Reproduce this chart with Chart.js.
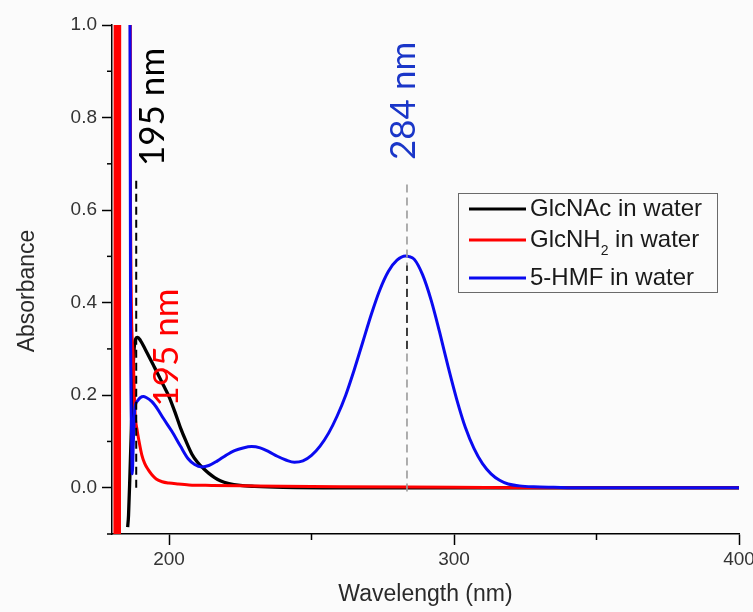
<!DOCTYPE html>
<html>
<head>
<meta charset="utf-8">
<script src="https://cdn.jsdelivr.net/npm/chart.js@4"></script>
<style>
  body { margin: 0; background: #fbfbfb; }
</style>
</head>
<body>
<canvas id="uvChart" width="753" height="612"></canvas>
<script>
// wavelength (nm) and absorbance
const glcnacWl = [185.5, 185.8, 186.3, 186.9, 187.5, 188.1, 189, 190, 191.6, 193, 194.5, 196, 198, 200, 202, 204, 206, 208, 210, 212, 214, 216, 218, 221, 225, 230, 240, 260, 400];
const glcnacAbs = [-0.085, -0.06, 0.03, 0.15, 0.27, 0.318, 0.325, 0.318, 0.3, 0.283, 0.265, 0.247, 0.222, 0.197, 0.165, 0.13, 0.1, 0.073, 0.055, 0.042, 0.031, 0.022, 0.015, 0.009, 0.005, 0.003, 0.001, 0, 0];

// null = break in the trace (the saturated part below 184 nm)
const glcnh2Wl = [181.0, 181.2, 181.5, 181.9, 182.0, 182.3, 182.6, 182.8, 184.5, 186.2, 186.5, 187.3, 188.1, 188.8, 189.5, 190.5, 191.5, 192.7, 194, 195.5, 197.6, 200, 203, 207, 215, 230, 260, 300, 330, 400];
const glcnh2Abs = [-0.5, 2.5, null, 2.5, -0.5, null, -0.5, 2.5, null, 2.5, 0.6, 0.3, 0.16, 0.125, 0.1, 0.07, 0.052, 0.039, 0.028, 0.019, 0.013, 0.01, 0.008, 0.006, 0.005, 0.004, 0.002, 0.001, 0, 0];

const hmfWl = [185.9, 186.5, 186.9, 187.1, 187.5, 188, 189, 190, 191, 192, 194, 196, 198, 201, 204, 206.8, 209, 211.5, 214, 217, 220, 223, 226, 229, 232, 235, 238, 241, 244, 247, 250, 253, 256, 259, 262, 265, 268, 271, 274, 277, 280, 283, 284, 286, 289, 292, 295, 298, 301, 304, 307, 310, 313, 316, 319, 323, 328, 335, 345, 400];
const hmfAbs = [2.5, 0.4, 0.1, 0.03, 0.1, 0.17, 0.188, 0.195, 0.197, 0.195, 0.186, 0.17, 0.15, 0.122, 0.09, 0.062, 0.05, 0.045, 0.048, 0.058, 0.07, 0.08, 0.086, 0.089, 0.086, 0.078, 0.068, 0.06, 0.055, 0.058, 0.07, 0.09, 0.118, 0.155, 0.2, 0.255, 0.315, 0.375, 0.428, 0.468, 0.492, 0.501, 0.5, 0.494, 0.46, 0.405, 0.335, 0.26, 0.19, 0.13, 0.085, 0.052, 0.03, 0.016, 0.008, 0.004, 0.002, 0.001, 0, 0];

const seriesLabels = ["GlcNAc in water", "GlcNH2 in water", "5-HMF in water"];
const seriesColors = ["#000000", "#ff0000", "#0a0af0"];
const xTicks = [200, 300, 400];
const xMinorTicks = [250, 350];
const yTicks = [0, 0.2, 0.4, 0.6, 0.8, 1.0];
const yMinorTicks = [-0.1, 0.1, 0.3, 0.5, 0.7, 0.9];

const FONT = '"Liberation Sans", Arial, sans-serif';

function toPoints(xs, ys) {
  return xs.map((v, i) => ({ x: v, y: ys[i] }));
}

const overlay = {
  id: "overlay",
  afterDatasetsDraw(chart) {
    const { ctx } = chart;
    const x = chart.scales.x, y = chart.scales.y;
    ctx.save();

    function guide(wl, from, to, color, width) {
      ctx.beginPath();
      ctx.setLineDash([8, 5]);
      ctx.strokeStyle = color;
      ctx.lineWidth = width;
      ctx.moveTo(x.getPixelForValue(wl), y.getPixelForValue(from));
      ctx.lineTo(x.getPixelForValue(wl), y.getPixelForValue(to));
      ctx.stroke();
    }
    guide(188.5, 0, 0.67, "#000", 2);
    guide(283.5, -0.008, 0.66, "#9a9a9a", 1.6);
    guide(283.5, 0.3, 0.48, "#333", 1.8);
    ctx.setLineDash([]);

    function vlabel(text, wl, val, color) {
      ctx.save();
      ctx.translate(x.getPixelForValue(wl), y.getPixelForValue(val));
      ctx.rotate(-Math.PI / 2);
      ctx.font = '35px Lato, "Open Sans", sans-serif';
      ctx.fillStyle = color;
      ctx.textAlign = "center";
      ctx.textBaseline = "middle";
      ctx.fillText(text, 0, 0);
      ctx.restore();
    }
    vlabel("195 nm", 194.3, 0.823, "#000");
    vlabel("195 nm", 199.2, 0.303, "#ff0000");
    vlabel("284 nm", 282.2, 0.836, "#1a36c8");
    ctx.restore();
  },
  afterDraw(chart) {
    const { ctx } = chart;
    const x = chart.scales.x, y = chart.scales.y;
    const area = chart.chartArea;
    ctx.save();
    ctx.strokeStyle = "#000";
    ctx.lineWidth = 1.5;
    xMinorTicks.forEach(v => {
      const px = x.getPixelForValue(v);
      ctx.beginPath();
      ctx.moveTo(px, area.bottom);
      ctx.lineTo(px, area.bottom + 6);
      ctx.stroke();
    });
    yMinorTicks.forEach(v => {
      const py = y.getPixelForValue(v);
      ctx.beginPath();
      ctx.moveTo(area.left, py);
      ctx.lineTo(area.left - 5, py);
      ctx.stroke();
    });

    // y axis title, sits a bit below the middle of the axis
    ctx.save();
    ctx.translate(28, 291);
    ctx.rotate(-Math.PI / 2);
    ctx.font = "23px " + FONT;
    ctx.fillStyle = "#2a2a2a";
    ctx.textAlign = "center";
    ctx.textBaseline = "middle";
    ctx.fillText("Absorbance", 0, 0);
    ctx.restore();

    // legend box
    const bx = 458.5, by = 193.5, bw = 259, bh = 99;
    ctx.strokeStyle = "#6a6a6a";
    ctx.lineWidth = 1;
    ctx.strokeRect(bx, by, bw, bh);
    const rows = [209, 240, 278];
    const fontMain = "24px " + FONT;
    ctx.textBaseline = "middle";
    ctx.textAlign = "left";
    rows.forEach((ry, i) => {
      ctx.strokeStyle = seriesColors[i];
      ctx.lineWidth = 3;
      ctx.beginPath();
      ctx.moveTo(469, ry);
      ctx.lineTo(526, ry);
      ctx.stroke();
      ctx.fillStyle = "#1a1a1a";
      ctx.font = fontMain;
      if (i === 1) {
        const head = "GlcNH";
        ctx.fillText(head, 530, ry);
        let w = ctx.measureText(head).width;
        ctx.font = "14px " + FONT;
        ctx.fillText("2", 530 + w, ry + 11);
        w += ctx.measureText("2").width;
        ctx.font = fontMain;
        ctx.fillText(" in water", 530 + w, ry);
      } else {
        ctx.fillText(seriesLabels[i], 530, ry);
      }
    });
    ctx.restore();
  }
};

const ctx = document.getElementById("uvChart").getContext("2d");
const uvChart = new Chart(ctx, {
  type: "line",
  data: {
    datasets: [
      { label: seriesLabels[0], data: toPoints(glcnacWl, glcnacAbs), borderColor: seriesColors[0], borderWidth: 3.3, order: 3 },
      { label: seriesLabels[1], data: toPoints(glcnh2Wl, glcnh2Abs), borderColor: seriesColors[1], order: 2 },
      { label: seriesLabels[2], data: toPoints(hmfWl, hmfAbs), borderColor: seriesColors[2], order: 1 },
    ],
  },
  options: {
    responsive: false,
    animation: false,
    layout: { padding: { top: 25, right: 14, bottom: 0, left: 0 } },
    elements: {
      point: { radius: 0 },
      line: { borderWidth: 3, cubicInterpolationMode: "monotone", fill: false },
    },
    plugins: {
      legend: { display: false },
      tooltip: { enabled: false },
    },
    scales: {
      x: {
        type: "linear",
        min: 180,
        max: 400,
        afterBuildTicks: (s) => { s.ticks = xTicks.map(v => ({ value: v })); },
        afterFit: (s) => { s.height = 78; s.paddingLeft = 0; s.paddingRight = 0; },
        grid: { drawOnChartArea: false, tickLength: 11, tickColor: "#000", tickWidth: 1.5 },
        border: { color: "#000", width: 1.5 },
        ticks: { color: "#333", font: { family: FONT, size: 19 }, padding: 3, maxRotation: 0 },
        title: { display: true, text: "Wavelength (nm)", color: "#2a2a2a", font: { family: FONT, size: 23 }, padding: { top: 0, bottom: 4 } },
      },
      y: {
        min: -0.1,
        max: 1.0,
        afterBuildTicks: (s) => { s.ticks = yTicks.map(v => ({ value: v })); },
        afterFit: (s) => { s.width = 112; s.paddingTop = 0; s.paddingBottom = 0; },
        grid: { drawOnChartArea: false, tickLength: 10, tickColor: "#000", tickWidth: 1.5 },
        border: { color: "#000", width: 1.5 },
        ticks: { color: "#333", font: { family: FONT, size: 19 }, padding: 5, callback: (v) => Number(v).toFixed(1) },
      },
    },
  },
  plugins: [overlay],
});
</script>
</body>
</html>
